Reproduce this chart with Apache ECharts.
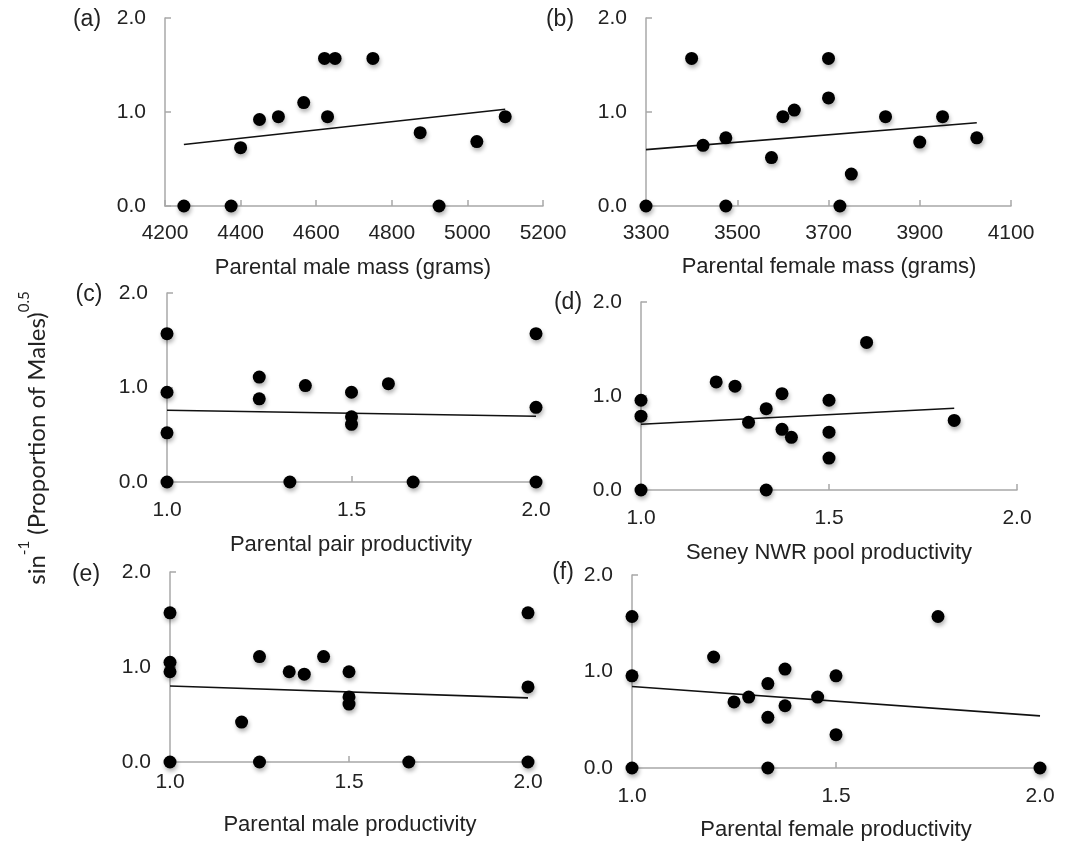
<!DOCTYPE html>
<html>
<head>
<meta charset="utf-8">
<script src="https://cdn.jsdelivr.net/npm/echarts@6/dist/echarts.min.js"></script>
<style>
html,body{margin:0;padding:0;background:#fff;}
#chart{width:1065px;height:843px;}
</style>
</head>
<body>
<div id="chart"></div>
<script>
// ---- data ----
const yTicks = ['0.0', '1.0', '2.0'];

const aX = [4250, 4375, 4400, 4450, 4500, 4567, 4622, 4650, 4630, 4750, 4875, 4925, 5025, 5100];
const aY = [0, 0, 0.62, 0.92, 0.95, 1.10, 1.57, 1.57, 0.95, 1.57, 0.78, 0, 0.685, 0.95];
const aLineX = [4250, 5100];
const aLineY = [0.655, 1.03];

const bX = [3300, 3400, 3425, 3475, 3475, 3575, 3600, 3625, 3700, 3700, 3725, 3750, 3825, 3900, 3950, 4025];
const bY = [0, 1.57, 0.645, 0.725, 0, 0.515, 0.95, 1.02, 1.57, 1.15, 0, 0.34, 0.95, 0.68, 0.95, 0.725];
const bLineX = [3300, 4025];
const bLineY = [0.60, 0.885];

const cX = [1, 1, 1, 1, 1.25, 1.25, 1.333, 1.375, 1.5, 1.5, 1.5, 1.6, 1.667, 2, 2, 2];
const cY = [1.57, 0.95, 0.52, 0, 1.11, 0.88, 0, 1.02, 0.95, 0.69, 0.61, 1.04, 0, 1.57, 0.79, 0];
const cLineX = [1, 2];
const cLineY = [0.76, 0.695];

const dX = [1, 1, 1, 1.2, 1.25, 1.286, 1.333, 1.333, 1.375, 1.375, 1.4, 1.5, 1.5, 1.5, 1.6, 1.833];
const dY = [0.955, 0.785, 0, 1.15, 1.105, 0.72, 0.865, 0, 1.025, 0.645, 0.56, 0.955, 0.615, 0.34, 1.57, 0.74];
const dLineX = [1, 1.833];
const dLineY = [0.70, 0.87];

const eX = [1, 1, 1, 1, 1.2, 1.25, 1.25, 1.333, 1.375, 1.429, 1.5, 1.5, 1.5, 1.667, 2, 2, 2];
const eY = [1.57, 1.05, 0.95, 0, 0.42, 1.11, 0, 0.95, 0.925, 1.11, 0.95, 0.685, 0.61, 0, 1.57, 0.79, 0];
const eLineX = [1, 2];
const eLineY = [0.80, 0.675];

const fX = [1, 1, 1, 1.2, 1.25, 1.286, 1.333, 1.333, 1.333, 1.375, 1.375, 1.455, 1.5, 1.5, 1.75, 2];
const fY = [1.57, 0.955, 0, 1.15, 0.685, 0.735, 0.875, 0.525, 0, 1.025, 0.645, 0.735, 0.955, 0.345, 1.57, 0];
const fLineX = [1, 2];
const fLineY = [0.845, 0.54];

const panelLabels = ['(a)', '(b)', '(c)', '(d)', '(e)', '(f)'];
const xTitles = ['Parental male mass (grams)', 'Parental female mass (grams)',
  'Parental pair productivity', 'Seney NWR pool productivity',
  'Parental male productivity', 'Parental female productivity'];
const xRanges = [[4200, 5200, 200], [3300, 4100, 200], [1, 2, 0.5], [1, 2, 0.5], [1, 2, 0.5], [1, 2, 0.5]];

// ---- layout ----
const grids = [
  {left: 165, top: 18, width: 378, height: 188},
  {left: 646, top: 18, width: 365, height: 188},
  {left: 167, top: 293, width: 369, height: 189},
  {left: 641, top: 302, width: 376, height: 188},
  {left: 170, top: 572, width: 358, height: 190},
  {left: 632, top: 575, width: 408, height: 193}
];
const xLabelMargins = [17, 17, 18, 18, 10, 18];
const labelPos = [[87, 20], [560, 20], [89, 295], [568, 303], [86, 575], [563, 573]];
const titlePos = [[353, 268], [829, 267], [351, 545], [829, 553], [350, 825], [836, 830]];

const xs = [aX, bX, cX, dX, eX, fX];
const ys = [aY, bY, cY, dY, eY, fY];
const lxs = [aLineX, bLineX, cLineX, dLineX, eLineX, fLineX];
const lys = [aLineY, bLineY, cLineY, dLineY, eLineY, fLineY];

const FONT = '"Liberation Sans", Arial, Helvetica, sans-serif';
const TXT = '#222';
const AXC = '#a8a8a8';

const xAxes = [], yAxes = [], series = [], graphic = [];
for (let i = 0; i < 6; i++) {
  const r = xRanges[i];
  const dec = r[2] < 1 ? 1 : 0;
  xAxes.push({
    type: 'value', gridIndex: i, min: r[0], max: r[1], interval: r[2],
    axisLine: {show: true, onZero: false, lineStyle: {color: AXC, width: 1.5}},
    axisTick: {show: true, inside: true, length: 6, lineStyle: {color: AXC, width: 1.5}},
    splitLine: {show: false},
    axisLabel: {margin: xLabelMargins[i], fontSize: 21, fontFamily: FONT, color: TXT,
      formatter: v => v.toFixed(dec)}
  });
  yAxes.push({
    type: 'value', gridIndex: i, min: 0, max: 2, interval: 1,
    axisLine: {show: true, onZero: false, lineStyle: {color: AXC, width: 1.5}},
    axisTick: {show: true, inside: true, length: 6, lineStyle: {color: AXC, width: 1.5}},
    splitLine: {show: false},
    axisLabel: {margin: 19, fontSize: 21, fontFamily: FONT, color: TXT,
      formatter: v => yTicks[Math.round(v)]}
  });
  series.push({
    type: 'line', xAxisIndex: i, yAxisIndex: i,
    data: lxs[i].map((x, k) => [x, lys[i][k]]),
    symbol: 'none', lineStyle: {color: '#111', width: 1.6}, z: 2, silent: true
  });
  series.push({
    type: 'scatter', xAxisIndex: i, yAxisIndex: i, clip: false,
    data: xs[i].map((x, k) => [x, ys[i][k]]),
    symbolSize: 13,
    itemStyle: {color: '#000', opacity: 1, shadowBlur: 4, shadowOffsetX: 1, shadowOffsetY: 3, shadowColor: 'rgba(0,0,0,0.3)'},
    z: 3
  });
  graphic.push({
    type: 'text', x: labelPos[i][0], y: labelPos[i][1],
    style: {text: panelLabels[i], fontSize: 23, fontFamily: FONT, fill: TXT, align: 'center', verticalAlign: 'middle'}
  });
  graphic.push({
    type: 'text', x: titlePos[i][0], y: titlePos[i][1],
    style: {text: xTitles[i], fontSize: 22, fontFamily: FONT, fill: TXT, align: 'center', verticalAlign: 'middle'}
  });
}
graphic.push({
  type: 'text', x: 33, y: 438, rotation: Math.PI / 2,
  style: {
    text: '{m|sin}{s|-1}{m| (Proportion of Males)}{s|0.5}',
    align: 'center', verticalAlign: 'middle', fill: TXT,
    rich: {
      m: {fontSize: 24, fontFamily: 'Lato, "Open Sans", sans-serif', fill: TXT, lineHeight: 32, verticalAlign: 'bottom'},
      s: {fontSize: 15, fontFamily: 'Lato, "Open Sans", sans-serif', fill: TXT, lineHeight: 32, verticalAlign: 'top'}
    }
  }
});

const chart = echarts.init(document.getElementById('chart'), null, {renderer: 'canvas'});
chart.setOption({
  animation: false,
  backgroundColor: '#fff',
  grid: grids.map(g => Object.assign({containLabel: false}, g)),
  xAxis: xAxes,
  yAxis: yAxes,
  series: series,
  graphic: graphic
});
</script>
</body>
</html>
